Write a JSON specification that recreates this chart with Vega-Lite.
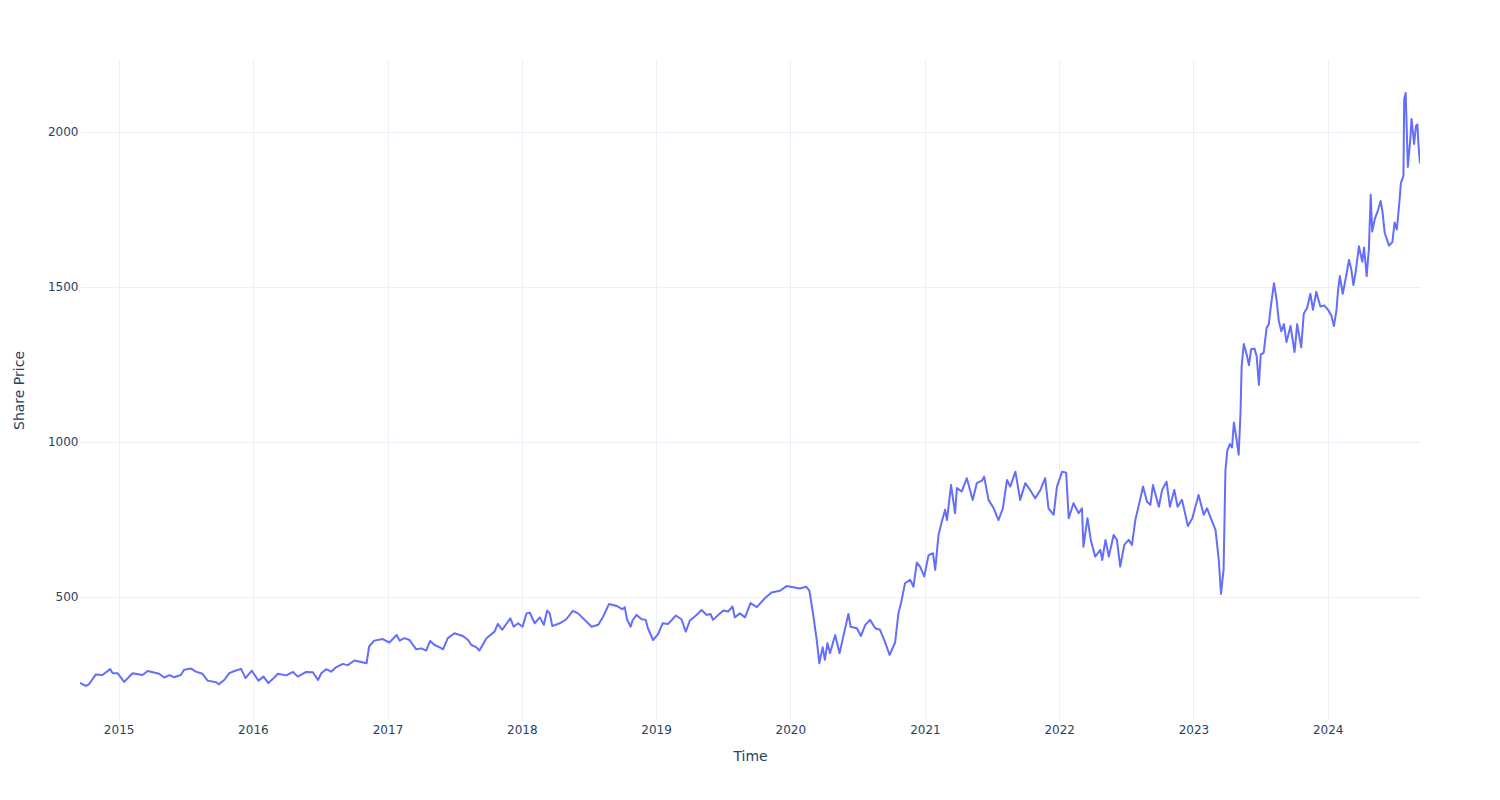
{
  "$schema": "https://vega.github.io/schema/vega-lite/v6.json",
  "width": 1340,
  "height": 660,
  "autosize": {"type": "none"},
  "padding": {"left": 80, "top": 60, "right": 80, "bottom": 80},
  "background": "white",
  "config": {
    "view": {"stroke": null},
    "font": "DejaVu Sans",
    "axis": {"labelFont": "DejaVu Sans", "titleFont": "DejaVu Sans", "labelColor": "#2a3f5f", "titleColor": "#2a3f5f", "labelFontSize": 12, "titleFontSize": 14, "titleFontWeight": "normal", "gridColor": "#EBF0F8", "gridWidth": 1, "domain": false, "ticks": false}
  },
  "data": {"values": [
    {"Time":"2014-09-18","Price":223},{"Time":"2014-10-04","Price":213},{"Time":"2014-10-13","Price":219},{"Time":"2014-10-31","Price":250},{"Time":"2014-11-18","Price":248},{"Time":"2014-12-09","Price":267},{"Time":"2014-12-16","Price":254},{"Time":"2014-12-29","Price":254},
    {"Time":"2015-01-16","Price":226},{"Time":"2015-02-08","Price":254},{"Time":"2015-03-07","Price":248},{"Time":"2015-03-21","Price":261},{"Time":"2015-04-21","Price":252},{"Time":"2015-05-05","Price":240},{"Time":"2015-05-19","Price":248},{"Time":"2015-06-01","Price":241},{"Time":"2015-06-19","Price":248},{"Time":"2015-06-28","Price":265},{"Time":"2015-07-17","Price":269},{"Time":"2015-07-30","Price":259},{"Time":"2015-08-17","Price":252},{"Time":"2015-08-31","Price":230},{"Time":"2015-09-23","Price":225},{"Time":"2015-09-30","Price":218},{"Time":"2015-10-15","Price":232},{"Time":"2015-10-29","Price":254},{"Time":"2015-11-12","Price":261},{"Time":"2015-11-30","Price":268},{"Time":"2015-12-12","Price":238},{"Time":"2015-12-29","Price":262},
    {"Time":"2016-01-16","Price":230},{"Time":"2016-01-30","Price":243},{"Time":"2016-02-12","Price":222},{"Time":"2016-02-24","Price":235},{"Time":"2016-03-09","Price":252},{"Time":"2016-04-01","Price":247},{"Time":"2016-04-19","Price":258},{"Time":"2016-05-02","Price":243},{"Time":"2016-05-25","Price":258},{"Time":"2016-06-12","Price":257},{"Time":"2016-06-26","Price":232},{"Time":"2016-07-05","Price":254},{"Time":"2016-07-18","Price":267},{"Time":"2016-08-01","Price":259},{"Time":"2016-08-14","Price":273},{"Time":"2016-09-01","Price":284},{"Time":"2016-09-15","Price":280},{"Time":"2016-10-03","Price":295},{"Time":"2016-10-21","Price":290},{"Time":"2016-11-05","Price":286},{"Time":"2016-11-12","Price":340},{"Time":"2016-11-26","Price":359},{"Time":"2016-12-19","Price":364},
    {"Time":"2017-01-06","Price":353},{"Time":"2017-01-26","Price":377},{"Time":"2017-02-03","Price":359},{"Time":"2017-02-16","Price":367},{"Time":"2017-03-02","Price":361},{"Time":"2017-03-20","Price":331},{"Time":"2017-04-03","Price":334},{"Time":"2017-04-16","Price":327},{"Time":"2017-04-27","Price":358},{"Time":"2017-05-09","Price":345},{"Time":"2017-05-22","Price":338},{"Time":"2017-06-01","Price":331},{"Time":"2017-06-14","Price":367},{"Time":"2017-07-02","Price":383},{"Time":"2017-07-25","Price":374},{"Time":"2017-08-08","Price":361},{"Time":"2017-08-17","Price":345},{"Time":"2017-08-30","Price":338},{"Time":"2017-09-08","Price":327},{"Time":"2017-09-27","Price":367},{"Time":"2017-10-19","Price":388},{"Time":"2017-10-28","Price":413},{"Time":"2017-11-09","Price":394},{"Time":"2017-12-01","Price":431},{"Time":"2017-12-10","Price":404},{"Time":"2017-12-22","Price":415},
    {"Time":"2018-01-03","Price":404},{"Time":"2018-01-14","Price":447},{"Time":"2018-01-23","Price":449},{"Time":"2018-02-05","Price":415},{"Time":"2018-02-19","Price":434},{"Time":"2018-03-02","Price":410},{"Time":"2018-03-11","Price":456},{"Time":"2018-03-18","Price":447},{"Time":"2018-03-25","Price":406},{"Time":"2018-04-14","Price":415},{"Time":"2018-05-02","Price":428},{"Time":"2018-05-20","Price":455},{"Time":"2018-06-03","Price":447},{"Time":"2018-06-21","Price":426},{"Time":"2018-07-10","Price":404},{"Time":"2018-07-28","Price":410},{"Time":"2018-08-10","Price":436},{"Time":"2018-08-26","Price":477},{"Time":"2018-09-16","Price":471},{"Time":"2018-10-02","Price":460},{"Time":"2018-10-08","Price":467},{"Time":"2018-10-14","Price":428},{"Time":"2018-10-24","Price":404},{"Time":"2018-10-29","Price":424},{"Time":"2018-11-09","Price":442},{"Time":"2018-11-23","Price":428},{"Time":"2018-12-04","Price":426},{"Time":"2018-12-10","Price":399},{"Time":"2018-12-24","Price":361},
    {"Time":"2019-01-07","Price":381},{"Time":"2019-01-19","Price":415},{"Time":"2019-02-03","Price":413},{"Time":"2019-02-24","Price":440},{"Time":"2019-03-11","Price":428},{"Time":"2019-03-23","Price":388},{"Time":"2019-04-03","Price":424},{"Time":"2019-04-21","Price":442},{"Time":"2019-05-05","Price":458},{"Time":"2019-05-18","Price":442},{"Time":"2019-05-29","Price":445},{"Time":"2019-06-05","Price":426},{"Time":"2019-06-19","Price":442},{"Time":"2019-07-03","Price":456},{"Time":"2019-07-16","Price":453},{"Time":"2019-07-28","Price":469},{"Time":"2019-08-03","Price":434},{"Time":"2019-08-17","Price":447},{"Time":"2019-08-31","Price":434},{"Time":"2019-09-15","Price":480},{"Time":"2019-10-02","Price":467},{"Time":"2019-10-24","Price":496},{"Time":"2019-11-11","Price":514},{"Time":"2019-12-04","Price":520},{"Time":"2019-12-22","Price":535},
    {"Time":"2020-01-09","Price":531},{"Time":"2020-01-27","Price":527},{"Time":"2020-02-13","Price":533},{"Time":"2020-02-22","Price":520},{"Time":"2020-03-02","Price":453},{"Time":"2020-03-13","Price":361},{"Time":"2020-03-20","Price":286},{"Time":"2020-03-29","Price":338},{"Time":"2020-04-04","Price":297},{"Time":"2020-04-11","Price":351},{"Time":"2020-04-18","Price":318},{"Time":"2020-05-02","Price":377},{"Time":"2020-05-14","Price":318},{"Time":"2020-05-24","Price":372},{"Time":"2020-06-07","Price":445},{"Time":"2020-06-13","Price":404},{"Time":"2020-06-30","Price":399},{"Time":"2020-07-11","Price":374},{"Time":"2020-07-23","Price":410},{"Time":"2020-08-05","Price":426},{"Time":"2020-08-19","Price":399},{"Time":"2020-09-01","Price":394},{"Time":"2020-09-15","Price":353},{"Time":"2020-09-27","Price":313},{"Time":"2020-10-12","Price":353},{"Time":"2020-10-21","Price":447},{"Time":"2020-10-28","Price":480},{"Time":"2020-11-08","Price":544},{"Time":"2020-11-22","Price":555},{"Time":"2020-12-01","Price":533},{"Time":"2020-12-10","Price":611},{"Time":"2020-12-19","Price":598},{"Time":"2020-12-30","Price":566},
    {"Time":"2021-01-11","Price":635},{"Time":"2021-01-23","Price":641},{"Time":"2021-01-29","Price":587},{"Time":"2021-02-07","Price":700},{"Time":"2021-02-16","Price":743},{"Time":"2021-02-25","Price":781},{"Time":"2021-03-02","Price":748},{"Time":"2021-03-13","Price":861},{"Time":"2021-03-24","Price":770},{"Time":"2021-03-29","Price":851},{"Time":"2021-04-11","Price":840},{"Time":"2021-04-25","Price":883},{"Time":"2021-05-11","Price":813},{"Time":"2021-05-22","Price":867},{"Time":"2021-06-05","Price":875},{"Time":"2021-06-11","Price":888},{"Time":"2021-06-23","Price":813},{"Time":"2021-07-07","Price":786},{"Time":"2021-07-20","Price":748},{"Time":"2021-08-01","Price":786},{"Time":"2021-08-12","Price":877},{"Time":"2021-08-21","Price":856},{"Time":"2021-09-04","Price":904},{"Time":"2021-09-17","Price":813},{"Time":"2021-10-01","Price":867},{"Time":"2021-10-14","Price":845},{"Time":"2021-10-28","Price":818},{"Time":"2021-11-11","Price":845},{"Time":"2021-11-24","Price":883},{"Time":"2021-12-03","Price":786},{"Time":"2021-12-17","Price":765},{"Time":"2021-12-26","Price":856},
    {"Time":"2022-01-09","Price":904},{"Time":"2022-01-20","Price":901},{"Time":"2022-01-27","Price":754},{"Time":"2022-02-09","Price":802},{"Time":"2022-02-23","Price":770},{"Time":"2022-03-04","Price":786},{"Time":"2022-03-08","Price":662},{"Time":"2022-03-19","Price":754},{"Time":"2022-03-28","Price":684},{"Time":"2022-04-09","Price":630},{"Time":"2022-04-23","Price":652},{"Time":"2022-04-28","Price":619},{"Time":"2022-05-07","Price":684},{"Time":"2022-05-16","Price":630},{"Time":"2022-05-29","Price":700},{"Time":"2022-06-07","Price":684},{"Time":"2022-06-16","Price":598},{"Time":"2022-06-27","Price":668},{"Time":"2022-07-09","Price":684},{"Time":"2022-07-18","Price":668},{"Time":"2022-07-27","Price":748},{"Time":"2022-08-10","Price":818},{"Time":"2022-08-17","Price":856},{"Time":"2022-08-28","Price":807},{"Time":"2022-09-06","Price":797},{"Time":"2022-09-13","Price":861},{"Time":"2022-09-29","Price":791},{"Time":"2022-10-08","Price":845},{"Time":"2022-10-20","Price":872},{"Time":"2022-10-29","Price":791},{"Time":"2022-11-10","Price":845},{"Time":"2022-11-19","Price":791},{"Time":"2022-12-01","Price":813},{"Time":"2022-12-17","Price":729},{"Time":"2022-12-29","Price":754},
    {"Time":"2023-01-15","Price":829},{"Time":"2023-01-29","Price":765},{"Time":"2023-02-07","Price":786},{"Time":"2023-02-21","Price":743},{"Time":"2023-03-02","Price":716},{"Time":"2023-03-11","Price":619},{"Time":"2023-03-17","Price":510},{"Time":"2023-03-24","Price":587},{"Time":"2023-03-29","Price":907},{"Time":"2023-04-03","Price":971},{"Time":"2023-04-10","Price":993},{"Time":"2023-04-16","Price":982},{"Time":"2023-04-21","Price":1063},{"Time":"2023-04-28","Price":1011},{"Time":"2023-05-04","Price":959},{"Time":"2023-05-09","Price":1092},{"Time":"2023-05-12","Price":1242},{"Time":"2023-05-18","Price":1316},{"Time":"2023-05-27","Price":1276},{"Time":"2023-06-01","Price":1247},{"Time":"2023-06-07","Price":1299},{"Time":"2023-06-16","Price":1301},{"Time":"2023-06-22","Price":1276},{"Time":"2023-06-28","Price":1184},{"Time":"2023-07-03","Price":1282},{"Time":"2023-07-11","Price":1287},{"Time":"2023-07-19","Price":1368},{"Time":"2023-07-25","Price":1380},{"Time":"2023-07-30","Price":1432},{"Time":"2023-08-08","Price":1512},{"Time":"2023-08-15","Price":1460},{"Time":"2023-08-21","Price":1391},{"Time":"2023-08-28","Price":1357},{"Time":"2023-09-04","Price":1380},{"Time":"2023-09-11","Price":1322},{"Time":"2023-09-22","Price":1374},{"Time":"2023-10-03","Price":1290},{"Time":"2023-10-10","Price":1380},{"Time":"2023-10-21","Price":1305},{"Time":"2023-10-28","Price":1414},{"Time":"2023-11-06","Price":1432},{"Time":"2023-11-15","Price":1478},{"Time":"2023-11-22","Price":1426},{"Time":"2023-12-01","Price":1484},{"Time":"2023-12-12","Price":1437},{"Time":"2023-12-23","Price":1440},
    {"Time":"2024-01-02","Price":1426},{"Time":"2024-01-11","Price":1408},{"Time":"2024-01-18","Price":1374},{"Time":"2024-01-25","Price":1426},{"Time":"2024-01-29","Price":1486},{"Time":"2024-02-03","Price":1535},{"Time":"2024-02-11","Price":1478},{"Time":"2024-02-19","Price":1527},{"Time":"2024-02-28","Price":1587},{"Time":"2024-03-05","Price":1558},{"Time":"2024-03-11","Price":1506},{"Time":"2024-03-17","Price":1547},{"Time":"2024-03-26","Price":1631},{"Time":"2024-04-04","Price":1581},{"Time":"2024-04-09","Price":1627},{"Time":"2024-04-16","Price":1535},{"Time":"2024-04-22","Price":1622},{"Time":"2024-04-27","Price":1797},{"Time":"2024-05-01","Price":1679},{"Time":"2024-05-08","Price":1719},{"Time":"2024-05-17","Price":1748},{"Time":"2024-05-24","Price":1777},{"Time":"2024-05-29","Price":1743},{"Time":"2024-06-04","Price":1674},{"Time":"2024-06-11","Price":1650},{"Time":"2024-06-16","Price":1633},{"Time":"2024-06-25","Price":1645},{"Time":"2024-07-01","Price":1708},{"Time":"2024-07-07","Price":1685},{"Time":"2024-07-13","Price":1760},{"Time":"2024-07-18","Price":1835},{"Time":"2024-07-25","Price":1858},{"Time":"2024-07-27","Price":2105},{"Time":"2024-07-31","Price":2126},{"Time":"2024-08-06","Price":1887},{"Time":"2024-08-12","Price":1968},{"Time":"2024-08-16","Price":2042},{"Time":"2024-08-23","Price":1961},{"Time":"2024-08-28","Price":2019},{"Time":"2024-09-01","Price":2024},{"Time":"2024-09-04","Price":1956},{"Time":"2024-09-08","Price":1898}
  ]},
  "mark": {"type": "line", "color": "#636efa", "strokeWidth": 2, "strokeJoin": "round", "clip": true},
  "encoding": {
    "x": {"field": "Time", "type": "temporal", "title": "Time",
      "scale": {"nice": false},
      "axis": {"format": "%Y", "tickCount": {"interval": "year", "step": 1}, "labelPadding": 4, "labelFlush": false, "labelOverlap": false, "titleY": 36, "titleBaseline": "middle", "titleX": 670, "titleAnchor": null, "titleAlign": "center"}},
    "y": {"field": "Price", "type": "quantitative", "title": "Share Price",
      "scale": {"domain": [103, 2232], "nice": false, "zero": false},
      "axis": {"values": [500, 1000, 1500, 2000], "format": "d", "labelPadding": 2, "titleX": -61, "titleY": 330, "titleAngle": -90, "titleAlign": "center", "titleBaseline": "middle"}}
  }
}
